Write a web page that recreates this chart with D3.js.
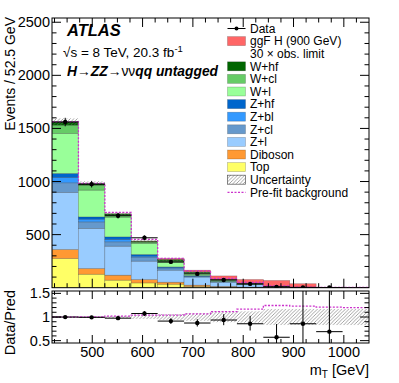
<!DOCTYPE html>
<html>
<head>
<meta charset="utf-8">
<script src="https://cdn.jsdelivr.net/npm/d3@7/dist/d3.min.js"></script>
<style>
  body { margin: 0; background: #fff; }
  text { font-family: "Liberation Sans", Arial, Helvetica, sans-serif; fill: #000; }
</style>
</head>
<body>
<svg id="chart" width="399" height="383"></svg>
<script>
// ---- data ----
const binEdges = [420, 472.5, 525, 577.5, 630, 682.5, 735, 787.5, 840, 892.5, 945, 997.5, 1050];

const topBkg  = [275, 127, 71, 45, 33, 12, 6, 3, 1, 0.3, 0.2, 0.1];
const diboson = [85, 54, 47, 32, 19, 12, 6, 3, 1, 0.3, 0.2, 0.1];
const zl      = [537, 377, 273, 173, 113, 76, 40, 22, 7, 1.8, 1.5, 0.8];
const zcl     = [91, 62, 41, 35, 16, 6, 3, 2, 0.6, 0.15, 0.1, 0.05];
const zbl     = [51, 26, 22, 12, 9, 4, 2, 1, 0.4, 0.1, 0.1, 0.05];
const zhf     = [37, 21, 25, 16, 6, 4, 2, 1, 0.4, 0.1, 0.1, 0.05];
const wl      = [377, 252, 185, 104, 41, 18, 9, 6, 2, 0.45, 0.4, 0.2];
const wcl     = [78, 47, 22, 12, 16, 10, 6, 2, 0.8, 0.15, 0.15, 0.1];
const whf     = [32, 16, 9, 9, 13, 7, 4, 2, 0.8, 0.15, 0.15, 0.05];
const ggF     = [0, 0, 1, 2, 9, 16, 33, 35, 54, 34, 1, 0.5];

const dataVals  = [1560, 975, 678, 470, 243, 130, 73, 36, 8, 3, 2, null];
const dataErrUp = [40, 31, 26, 22, 16, 12, 9.6, 7, 3.9, 2.9, 2.6, null];
const dataErrDn = [40, 31, 26, 22, 16, 11, 8.5, 6, 2.8, 1.6, 1.3, null];

const prefit = [1563, 982, 709, 456, 277, 159, 87, 49, 17.4, 4.3, 3.5, 1.8];
const uncRel = [0.02, 0.02, 0.025, 0.04, 0.06, 0.08, 0.11, 0.12, 0.17, 0.17, 0.17, 0.17];

const yTicks = [500, 1000, 1500, 2000, 2500];
const xTicks = [500, 600, 700, 800, 900, 1000];
const rTicks = [0.5, 1, 1.5];

const series = [
  { key: "Top",     vals: topBkg,  color: "#ffff66" },
  { key: "Diboson", vals: diboson, color: "#ff9933" },
  { key: "Z+l",     vals: zl,      color: "#99ccff" },
  { key: "Z+cl",    vals: zcl,     color: "#6699cc" },
  { key: "Z+bl",    vals: zbl,     color: "#3399ff" },
  { key: "Z+hf",    vals: zhf,     color: "#0066cc" },
  { key: "W+l",     vals: wl,      color: "#99ff99" },
  { key: "W+cl",    vals: wcl,     color: "#66cc66" },
  { key: "W+hf",    vals: whf,     color: "#006600" },
  { key: "ggF",     vals: ggF,     color: "#ff6666" }
];

// ---- layout ----
const L = 52, R = 369, mainTop = 18, mainBot = 287.7, ratTop = 291, ratBot = 343;

const svg = d3.select("#chart");
const defs = svg.append("defs");
const pat = defs.append("pattern").attr("id", "hatch")
  .attr("patternUnits", "userSpaceOnUse").attr("width", 3.5).attr("height", 3.5);
pat.append("path").attr("d", "M-1,1 l2,-2 M0,3.5 l3.5,-3.5 M2.5,4.5 l2,-2")
  .attr("stroke", "#666").attr("stroke-width", 0.6);
defs.append("clipPath").attr("id", "clipMain").append("rect")
  .attr("x", L).attr("y", mainTop).attr("width", R - L).attr("height", mainBot - mainTop);
defs.append("clipPath").attr("id", "clipRat").append("rect")
  .attr("x", L).attr("y", ratTop).attr("width", R - L).attr("height", ratBot - ratTop);

const x = d3.scaleLinear().domain([420, 1050]).range([L, R]);
const y = d3.scaleLinear().domain([0, 2540]).range([mainBot, mainTop]);
const yr = d3.scaleLinear().domain([0.45, 1.55]).range([ratBot, ratTop]);

// table for the stack
const table = binEdges.slice(0, -1).map((e, i) => {
  const row = { i: i };
  series.forEach(s => row[s.key] = s.vals[i]);
  return row;
});
const stacked = d3.stack().keys(series.map(s => s.key))(table);
const bkgKeys = series.slice(0, 9).map(s => s.key);
const bkgTotal = table.map(r => d3.sum(bkgKeys, k => r[k]));

const main = svg.append("g").attr("clip-path", "url(#clipMain)");

stacked.forEach((layer, li) => {
  main.append("g").selectAll("rect")
    .data(layer)
    .join("rect")
    .attr("x", d => x(binEdges[d.data.i]))
    .attr("width", d => x(binEdges[d.data.i + 1]) - x(binEdges[d.data.i]))
    .attr("y", d => y(d[1]))
    .attr("height", d => Math.max(0, y(d[0]) - y(d[1])))
    .attr("fill", series[li].color)
    .attr("stroke", "rgba(0,0,0,0.3)")
    .attr("stroke-width", 0.6);
});

// uncertainty band on total background
main.append("g").selectAll("rect")
  .data(bkgTotal)
  .join("rect")
  .attr("x", (d, i) => x(binEdges[i]))
  .attr("width", (d, i) => x(binEdges[i + 1]) - x(binEdges[i]))
  .attr("y", (d, i) => y(d * (1 + uncRel[i])))
  .attr("height", (d, i) => y(d * (1 - uncRel[i])) - y(d * (1 + uncRel[i])))
  .attr("fill", "url(#hatch)");

// pre-fit background step line
const stepPts = prefit.map((v, i) => [binEdges[i], v]).concat([[binEdges[12], prefit[11]]]);
main.append("path")
  .attr("d", d3.line().x(d => x(d[0])).y(d => y(d[1])).curve(d3.curveStepAfter)(stepPts))
  .attr("fill", "none").attr("stroke", "#cc33cc").attr("stroke-width", 1.3)
  .attr("stroke-dasharray", "2,1.5");

// data points
function drawData(g, yScale, vals, up, dn) {
  vals.forEach((v, i) => {
    if (v === null) return;
    const cx = x((binEdges[i] + binEdges[i + 1]) / 2);
    g.append("line").attr("x1", x(binEdges[i])).attr("x2", x(binEdges[i + 1]))
      .attr("y1", yScale(v)).attr("y2", yScale(v)).attr("stroke", "#000").attr("stroke-width", 1);
    g.append("line").attr("x1", cx).attr("x2", cx)
      .attr("y1", yScale(v + up[i])).attr("y2", yScale(v - dn[i])).attr("stroke", "#000").attr("stroke-width", 1);
    g.append("circle").attr("cx", cx).attr("cy", yScale(v)).attr("r", 2.2).attr("fill", "#000");
  });
}
drawData(main, y, dataVals, dataErrUp, dataErrDn);

// ---- ratio panel ----
const rat = svg.append("g").attr("clip-path", "url(#clipRat)");
rat.append("g").selectAll("rect")
  .data(uncRel)
  .join("rect")
  .attr("x", (d, i) => x(binEdges[i]))
  .attr("width", (d, i) => x(binEdges[i + 1]) - x(binEdges[i]))
  .attr("y", d => yr(1 + d))
  .attr("height", d => yr(1 - d) - yr(1 + d))
  .attr("fill", "url(#hatch)");

const prefitRatio = prefit.map((v, i) => v / bkgTotal[i]);
const rStep = prefitRatio.map((v, i) => [binEdges[i], v]).concat([[binEdges[12], prefitRatio[11]]]);
rat.append("path")
  .attr("d", d3.line().x(d => x(d[0])).y(d => yr(d[1])).curve(d3.curveStepAfter)(rStep))
  .attr("fill", "none").attr("stroke", "#cc33cc").attr("stroke-width", 1.3)
  .attr("stroke-dasharray", "2,1.5");

const ratioVals = dataVals.map((v, i) => v === null ? null : v / bkgTotal[i]);
const ratioUp = dataErrUp.map((v, i) => v === null ? null : v / bkgTotal[i]);
const ratioDn = dataErrDn.map((v, i) => v === null ? null : v / bkgTotal[i]);
drawData(rat, yr, ratioVals, ratioUp, ratioDn);

// ---- frames and ticks ----
function frame(t, b) {
  svg.append("rect").attr("x", L).attr("y", t).attr("width", R - L).attr("height", b - t)
    .attr("fill", "none").attr("stroke", "#000").attr("stroke-width", 1);
}
frame(mainTop, mainBot);
frame(ratTop, ratBot);

const tk = svg.append("g").attr("stroke", "#000").attr("stroke-width", 1);
function xTicksOn(t, b, major, minor) {
  d3.range(425, 1050, 25).forEach(v => {
    const len = v % 100 === 0 ? major : minor;
    tk.append("line").attr("x1", x(v)).attr("x2", x(v)).attr("y1", b).attr("y2", b - len);
    tk.append("line").attr("x1", x(v)).attr("x2", x(v)).attr("y1", t).attr("y2", t + len);
  });
}
xTicksOn(mainTop, mainBot, 9, 4.5);
xTicksOn(ratTop, ratBot, 8, 4);

d3.range(100, 2540, 100).forEach(v => {
  const len = v % 500 === 0 ? 9 : 4.5;
  tk.append("line").attr("x1", L).attr("x2", L + len).attr("y1", y(v)).attr("y2", y(v));
  tk.append("line").attr("x1", R).attr("x2", R - len).attr("y1", y(v)).attr("y2", y(v));
});
d3.range(0.5, 1.55, 0.1).forEach(v => {
  const major = Math.abs(v * 2 - Math.round(v * 2)) < 1e-6;
  const len = major ? 9 : 4.5;
  tk.append("line").attr("x1", L).attr("x2", L + len).attr("y1", yr(v)).attr("y2", yr(v));
  tk.append("line").attr("x1", R).attr("x2", R - len).attr("y1", yr(v)).attr("y2", yr(v));
});

// tick labels
svg.append("g").selectAll("text").data(yTicks).join("text")
  .attr("x", L - 2).attr("y", d => y(d) + 5).attr("text-anchor", "end")
  .style("font-size", "14.5px").text(d => d);
svg.append("g").selectAll("text").data(rTicks).join("text")
  .attr("x", L - 2).attr("y", d => yr(d) + 5).attr("text-anchor", "end")
  .style("font-size", "14.5px").text(d => d);
svg.append("g").selectAll("text").data(xTicks).join("text")
  .attr("x", d => x(d)).attr("y", 357).attr("text-anchor", "middle")
  .style("font-size", "14.5px").text(d => d);

// axis titles
svg.append("text").attr("transform", "translate(15,17) rotate(-90)")
  .attr("text-anchor", "end").style("font-size", "14px").text("Events / 52.5 GeV");
svg.append("text").attr("transform", "translate(15,290) rotate(-90)")
  .attr("text-anchor", "end").style("font-size", "14.5px").text("Data/Pred");
const xt = svg.append("text").attr("x", R).attr("y", 375).attr("text-anchor", "end").style("font-size", "14.5px");
xt.append("tspan").text("m");
xt.append("tspan").attr("dy", 3).style("font-size", "10px").text("T");
xt.append("tspan").attr("dy", -3).text(" [GeV]");

// labels in the plot
svg.append("text").attr("x", 67).attr("y", 36)
  .style("font-size", "16.5px").style("font-weight", "bold").style("font-style", "italic").text("ATLAS");
const en = svg.append("text").attr("x", 63).attr("y", 57).style("font-size", "13.5px");
en.append("tspan").text("√s = 8 TeV, 20.3 fb");
en.append("tspan").attr("dy", -5).style("font-size", "9.5px").text("-1");
const ch = svg.append("text").attr("x", 67).attr("y", 76).style("font-size", "13.8px");
const bi = t => ch.append("tspan").style("font-weight", "bold").style("font-style", "italic").text(t);
bi("H"); ch.append("tspan").text("→"); bi("ZZ"); ch.append("tspan").text("→νν"); bi("qq untagged");

// ---- legend ----
const legendItems = [
  { label: "Data", type: "data" },
  { label: "ggF H (900 GeV)", type: "box", color: "#ff6666" },
  { label: "30 × obs. limit", type: "none" },
  { label: "W+hf", type: "box", color: "#006600" },
  { label: "W+cl", type: "box", color: "#66cc66" },
  { label: "W+l", type: "box", color: "#99ff99" },
  { label: "Z+hf", type: "box", color: "#0066cc" },
  { label: "Z+bl", type: "box", color: "#3399ff" },
  { label: "Z+cl", type: "box", color: "#6699cc" },
  { label: "Z+l", type: "box", color: "#99ccff" },
  { label: "Diboson", type: "box", color: "#ff9933" },
  { label: "Top", type: "box", color: "#ffff66" },
  { label: "Uncertainty", type: "hatch" },
  { label: "Pre-fit background", type: "dash" }
];
const lg = svg.append("g");
legendItems.forEach((it, i) => {
  const cy = 28.5 + i * 12.6;
  const bx = 227.5, bw = 18;
  if (it.type === "box" || it.type === "hatch") {
    lg.append("rect").attr("x", bx).attr("y", cy - 4.5).attr("width", bw).attr("height", 9)
      .attr("fill", it.type === "hatch" ? "url(#hatch)" : it.color)
      .attr("stroke", it.type === "hatch" ? "#555" : "rgba(0,0,0,0.25)").attr("stroke-width", 0.7);
  } else if (it.type === "data") {
    lg.append("line").attr("x1", bx).attr("x2", bx + bw).attr("y1", cy).attr("y2", cy).attr("stroke", "#000");
    lg.append("circle").attr("cx", bx + bw / 2).attr("cy", cy).attr("r", 2).attr("fill", "#000");
  } else if (it.type === "dash") {
    lg.append("line").attr("x1", bx).attr("x2", bx + bw).attr("y1", cy).attr("y2", cy)
      .attr("stroke", "#cc33cc").attr("stroke-width", 1.3).attr("stroke-dasharray", "2,1.5");
  }
  lg.append("text").attr("x", 250).attr("y", cy + 4.3).style("font-size", "12px").text(it.label);
});
</script>
</body>
</html>
